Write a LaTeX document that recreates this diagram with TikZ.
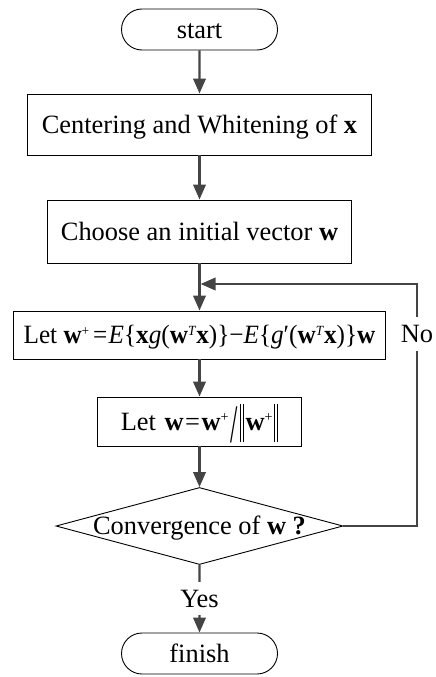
\documentclass[tikz,border=0pt]{standalone}
\usepackage{fontspec}
\setmainfont{Liberation Serif}
\usetikzlibrary{shapes.geometric,shapes.misc,arrows.meta}
\definecolor{arrowgray}{HTML}{444444}
\newcommand\mysup[1]{\raisebox{8.5pt}{\fontsize{14}{14}\selectfont #1}}
\newcommand\mybar{\rule[-12.3pt]{0.8pt}{38pt}}
\newcommand\mynorm{\mybar\hspace{2.6pt}\mybar}
\newcommand\myslash{\raisebox{-12pt}{\scalebox{1}[2.05]{/}}}
\begin{document}
\begin{tikzpicture}[x=1pt,y=-1pt,
  every node/.style={font=\fontsize{26.4}{30}\selectfont, text height=17.3pt, text depth=0pt},
  term/.style={rounded rectangle, draw=black, line width=0.9pt, minimum width=156pt, minimum height=41pt, inner sep=0pt},
  procbox/.style={rectangle, draw=black, line width=0.9pt, inner sep=0pt},
  decision/.style={diamond, draw=black, line width=0.9pt, minimum width=287pt, minimum height=77pt, inner sep=0pt},
  flow/.style={draw=arrowgray, line width=2.2pt, -{Triangle[length=15pt,width=12.5pt]}},
  lbl/.style={fill=white, inner xsep=2pt, inner ysep=8pt}
]
\useasboundingbox (0,0) rectangle (436,677);

\node[term] (start) at (199.5,29.5) {start};
\node[procbox, minimum width=344pt, minimum height=61pt] (cw) at (199.5,124.5) {Centering and Whitening of \textbf{x}};
\node[procbox, minimum width=304pt, minimum height=63pt] (init) at (199.5,231.5) {Choose an initial vector \textbf{w}};
\node[procbox, minimum width=372pt, minimum height=48pt] (upd) at (199.5,335)
  {\scalebox{0.955}[1]{Let \textbf{w}\mysup{+}\hspace{4pt}=\hspace{1.5pt}\textit{E}\{\textbf{x}\textit{g}(\textbf{w}\mysup{\textit{T}}\textbf{x})\}−\textit{E}\{\textit{g}′(\textbf{w}\mysup{\textit{T}}\textbf{x})\}\textbf{w}}};
\node[procbox, minimum width=204pt, minimum height=49pt] (norm) at (199.5,421.5)
  {Let\hspace{2pt} \textbf{w}\hspace{1.5pt}=\hspace{1.5pt}\textbf{w}\mysup{+}\hspace{2pt}\myslash\hspace{2pt}\mynorm\hspace{1.5pt}\textbf{w}\mysup{+}\hspace{1.5pt}\mynorm};
\node[decision, label={center:Convergence of \textbf{w ?}}] (dec) at (199.5,526) {};
\node[term] (fin) at (199.5,653.5) {finish};

\coordinate (cr) at (417,526);
\coordinate (ct) at (417,284);
\coordinate (join) at (200.6,284);

\draw[flow] (start) -- (cw);
\draw[flow] (cw) -- (init);
\draw[flow] (init) -- (upd);
\draw[flow] (upd) -- (norm);
\draw[flow] (norm) -- (dec);
\draw[flow] (dec) -- node[lbl] {Yes} (fin);
\draw[flow] (dec.east) -- (cr) -- node[lbl, pos=0.793] {No} (ct) -- (join);
\end{tikzpicture}
\end{document}
